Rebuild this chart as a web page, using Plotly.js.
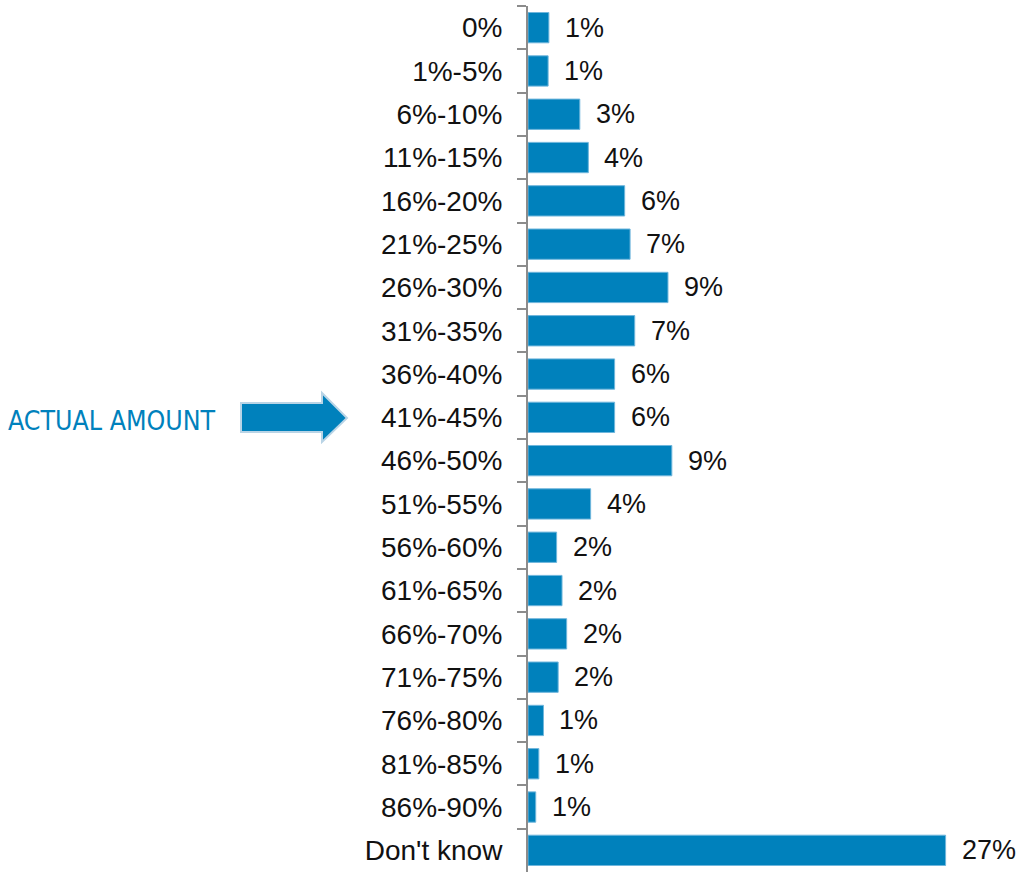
<!DOCTYPE html>
<html>
<head>
<meta charset="utf-8">
<script src="https://cdn.plot.ly/plotly-3.0.1.min.js"></script>
<style>html,body{margin:0;padding:0;background:#fff;}#chart{width:1018px;height:872px;}</style>
</head>
<body>
<div id="chart"></div>
<script>
// Data (top to bottom as in the reference)
const categories = ["0%","1%-5%","6%-10%","11%-15%","16%-20%","21%-25%","26%-30%","31%-35%","36%-40%","41%-45%","46%-50%","51%-55%","56%-60%","61%-65%","66%-70%","71%-75%","76%-80%","81%-85%","86%-90%","Don't know"];
const values = [1.35,1.3,3.35,3.9,6.25,6.6,9.05,6.9,5.6,5.6,9.3,4.05,1.85,2.2,2.5,1.95,1.0,0.7,0.5,27.0];
const valueLabels = ["1%","1%","3%","4%","6%","7%","9%","7%","6%","6%","9%","4%","2%","2%","2%","2%","1%","1%","1%","27%"];
const calloutText = "ACTUAL AMOUNT";

const W = 1018, H = 872;
const mL = 528, mR = 26, mT = 6, mB = 0;
const pw = W - mL - mR, ph = H - mT - mB;
const px = x => (x - mL) / pw;
const py = y => (H - mB - y) / ph;

const blue = "#0081BC";

const annotations = values.map((v, i) => ({
  x: v, y: categories[i], xref: "x", yref: "y",
  text: valueLabels[i], showarrow: false, xanchor: "left", yanchor: "middle",
  xshift: 14, font: {family: "Liberation Sans, Arial, sans-serif", size: 27, color: "#111"}
}));
annotations.push({
  x: px(6), y: py(421), xref: "paper", yref: "paper", text: calloutText,
  showarrow: false, xanchor: "left", yanchor: "middle",
  font: {family: "Liberation Sans Narrow, Arial Narrow, DejaVu Sans Condensed, sans-serif", size: 26.5, color: blue}
});

const arrowPts = [[241,403],[322,403],[322,393],[347,418],[322,442],[322,432],[241,432]];
const arrowPath = "M " + arrowPts.map(p => px(p[0]).toFixed(5) + "," + py(p[1]).toFixed(5)).join(" L ") + " Z";

const trace = {
  type: "bar", orientation: "h",
  x: values, y: categories,
  marker: {color: blue, line: {color: "#6fb6dc", width: 1}},
  width: 0.7, hoverinfo: "none"
};

const layout = {
  width: W, height: H,
  margin: {l: mL, r: mR, t: mT, b: mB, pad: 0},
  paper_bgcolor: "#fff", plot_bgcolor: "#fff",
  showlegend: false,
  bargap: 0.3,
  xaxis: {range: [0, 30], visible: false, fixedrange: true},
  yaxis: {
    type: "category", autorange: "reversed",
    categoryorder: "array", categoryarray: categories,
    showline: true, linecolor: "#8c8c8c", linewidth: 2,
    ticks: "outside", tickson: "boundaries", ticklen: 9, tickcolor: "#8c8c8c", tickwidth: 2,
    ticklabelstandoff: 18,
    tickfont: {family: "Liberation Sans, Arial, sans-serif", size: 28, color: "#111"},
    showgrid: false, zeroline: false, fixedrange: true
  },
  shapes: [{
    type: "path", xref: "paper", yref: "paper", path: arrowPath,
    fillcolor: blue, line: {color: "#b9d4e6", width: 2}, layer: "above"
  }],
  annotations: annotations
};

Plotly.newPlot("chart", [trace], layout, {displayModeBar: false, staticPlot: true});
</script>
</body>
</html>
